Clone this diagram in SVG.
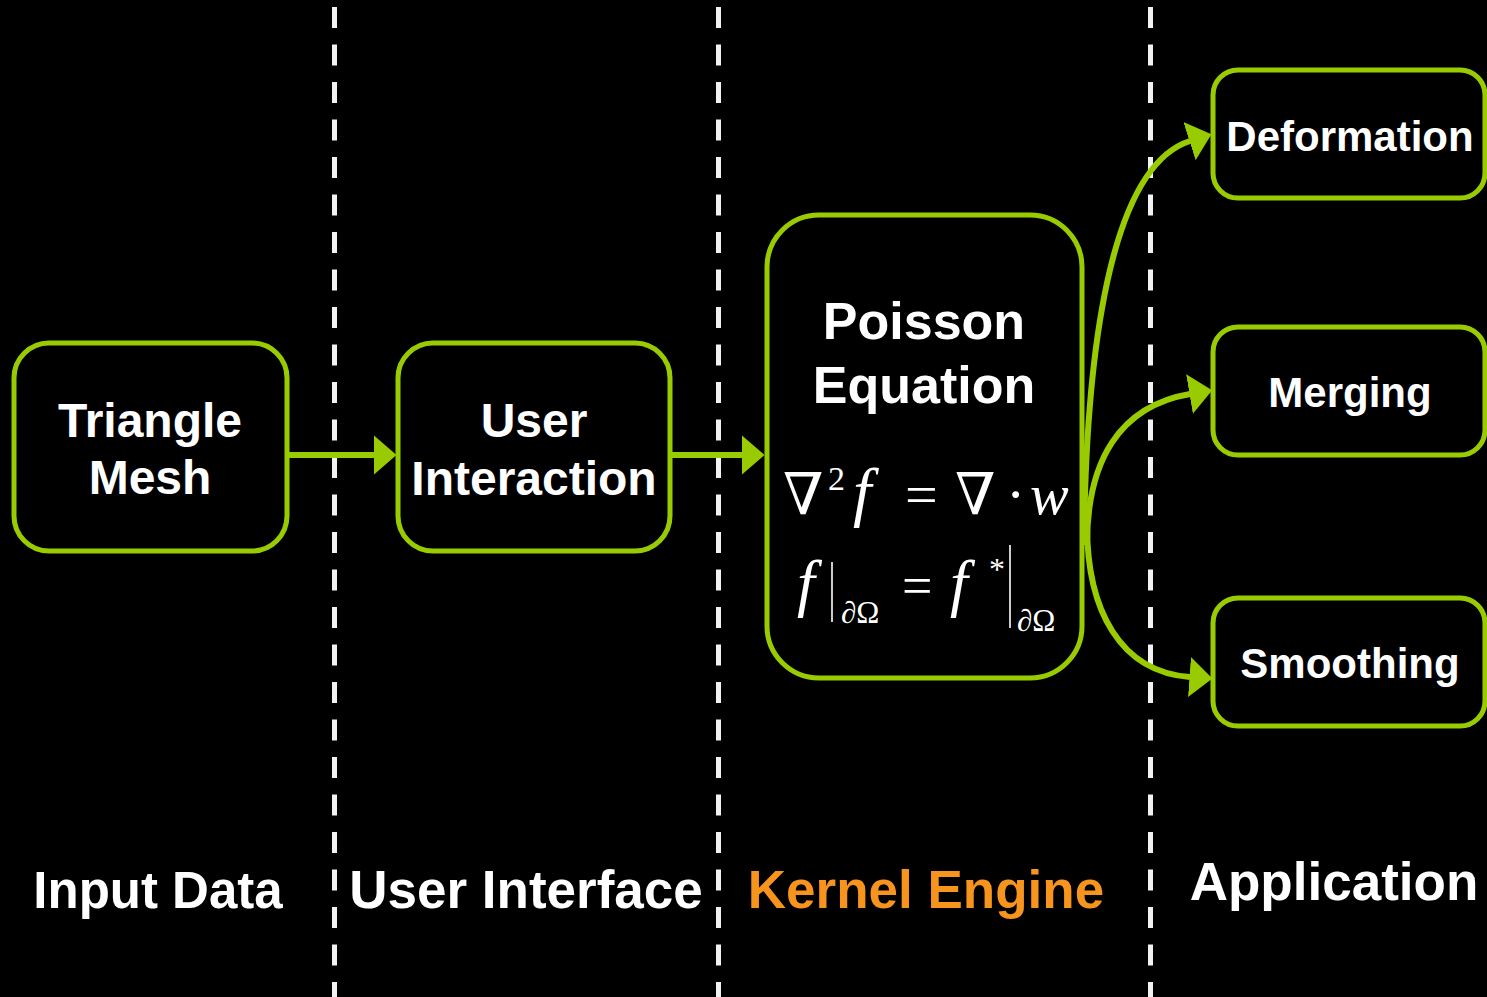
<svg xmlns="http://www.w3.org/2000/svg" width="1487" height="997" viewBox="0 0 1487 997">
<defs>
<style>
.box{fill:#000;stroke:#99CC00;stroke-width:5}
.lbl{font-family:"Liberation Sans",Arial,sans-serif;font-weight:bold;fill:#fff;text-anchor:middle}
.sep{stroke:#f2f2f2;stroke-width:5;stroke-dasharray:21 16.5}
.con{fill:none;stroke:#99CC00;stroke-width:6}
.math{font-family:"Liberation Serif","DejaVu Serif","Times New Roman",serif;fill:#fff}
.mbar{stroke:#fff;stroke-width:1.6}
</style>
<marker id="ah" markerUnits="userSpaceOnUse" markerWidth="23" markerHeight="40" viewBox="0 0 23 40" refX="0.5" refY="20" orient="auto">
<path d="M0,0 L23,20 L0,40 z" fill="#99CC00"/>
</marker>
</defs>
<rect width="1487" height="997" fill="#000"/>
<g id="separators">
<line class="sep" x1="334.5" y1="7" x2="334.5" y2="997"/>
<line class="sep" x1="718.5" y1="7" x2="718.5" y2="997"/>
<line class="sep" x1="1150.5" y1="7" x2="1150.5" y2="997"/>
</g>
<g id="connectors">
<path class="con" d="M287 455 L374 455" marker-end="url(#ah)"/>
<path class="con" d="M670 455 L742 455" marker-end="url(#ah)"/>
<path class="con" d="M1084 545 C1086 330 1115 165 1190 141" marker-end="url(#ah)"/>
<path class="con" d="M1087 545 C1087 460 1120 406 1190 394" marker-end="url(#ah)"/>
<path class="con" d="M1087 525 C1087 610 1120 672 1190 677" marker-end="url(#ah)"/>
</g>
<g id="triangle-mesh">
<rect class="box" x="14" y="343" width="273" height="208" rx="35"/>
<text class="lbl" font-size="48" x="150" y="437">Triangle</text>
<text class="lbl" font-size="48" x="150" y="494">Mesh</text>
</g>
<g id="user-interaction">
<rect class="box" x="398" y="343" width="272" height="208" rx="35"/>
<text class="lbl" font-size="48" x="534" y="437">User</text>
<text class="lbl" font-size="48" x="534" y="495">Interaction</text>
</g>
<g id="poisson-equation">
<rect class="box" x="767" y="215" width="315" height="463" rx="52"/>
<text class="lbl" font-size="52" x="924" y="339">Poisson</text>
<text class="lbl" font-size="52" x="924" y="403">Equation</text>
<text class="math" font-size="58" y="514"><tspan x="783">∇</tspan><tspan x="828" y="490" font-size="34">2</tspan><tspan x="853" y="514" font-style="italic" font-size="66">f</tspan><tspan x="905">=</tspan><tspan x="955">∇</tspan><tspan x="1006">·</tspan><tspan x="1030" font-style="italic">w</tspan></text>
<text class="math" font-size="54" y="604"><tspan x="797" font-style="italic" font-size="64">f</tspan><tspan x="902">=</tspan><tspan x="950" font-style="italic" font-size="64">f</tspan><tspan x="989" y="580" font-size="32">*</tspan></text>
<line class="mbar" x1="832" y1="562" x2="832" y2="622"/>
<line class="mbar" x1="1010" y1="545" x2="1010" y2="628"/>
<text class="math" font-size="31" x="841" y="623">∂Ω</text>
<text class="math" font-size="31" x="1017" y="631">∂Ω</text>
</g>
<g id="deformation">
<rect class="box" x="1213" y="70" width="272" height="128" rx="25"/>
<text class="lbl" font-size="42" x="1350" y="151">Deformation</text>
</g>
<g id="merging">
<rect class="box" x="1213" y="327" width="272" height="128" rx="25"/>
<text class="lbl" font-size="42" x="1350" y="407">Merging</text>
</g>
<g id="smoothing">
<rect class="box" x="1213" y="598" width="272" height="128" rx="25"/>
<text class="lbl" font-size="42" x="1350" y="678">Smoothing</text>
</g>
<g id="stage-labels">
<text class="lbl" font-size="51" x="158" y="908">Input Data</text>
<text class="lbl" font-size="53" x="526" y="908">User Interface</text>
<text class="lbl" font-size="53" x="926" y="908" style="fill:#F7941D">Kernel Engine</text>
<text class="lbl" font-size="53" x="1334" y="900">Application</text>
</g>
</svg>
